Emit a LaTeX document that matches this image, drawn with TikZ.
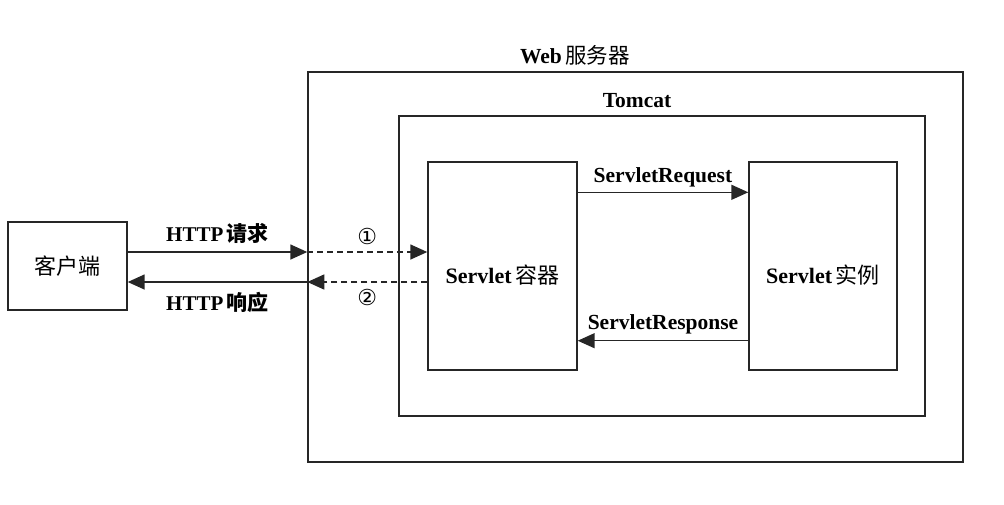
\documentclass[tikz,border=0pt]{standalone}
\usepackage{fontspec}
\setmainfont{Liberation Serif}
\newfontfamily\cjk{Noto Sans CJK SC}
\newfontfamily\sym{DejaVu Sans}
\usetikzlibrary{arrows.meta}
\begin{document}
\begin{tikzpicture}[x=1pt,y=-1pt,
  box/.style={draw=black!85,line width=1.4pt,inner sep=0pt},
  lbl/.style={font=\fontsize{21.5}{24}\selectfont\bfseries},
  cjklbl/.style={font=\fontsize{22}{24}\selectfont\cjk},
  conn/.style={draw=black!85,line width=1.5pt,-{Triangle[length=17pt,width=15pt]}},
  dconn/.style={conn,dash pattern=on 6pt off 4pt}]
\useasboundingbox (0,0) rectangle (1004,504);
% boxes
\node[box,minimum width=119pt,minimum height=88pt] (client) at (67.5,266) {};
\node[cjklbl] at (client.center) {客户端};
\node[box,minimum width=655pt,minimum height=390pt] (web) at (635.5,267) {};
\node[box,minimum width=526pt,minimum height=300pt] (tomcat) at (662,266) {};
\node[box,minimum width=149pt,minimum height=208pt] (container) at (502.5,266) {};
\node[box,minimum width=148pt,minimum height=208pt] (instance) at (823,266) {};
% labels of boxes
\node[anchor=base] (weblbl) at (575,63) {\fontsize{21.5}{24}\selectfont\bfseries Web\,{\cjk\mdseries 服务器}};
\node[anchor=base,lbl] (tomcatlbl) at (637,107) {Tomcat};
\node[anchor=base] (contlbl) at (502.5,283) {\fontsize{22}{24}\selectfont\bfseries Servlet\,{\cjk\mdseries 容器}};
\node[anchor=base] (instlbl) at (823,283) {\fontsize{22}{24}\selectfont\bfseries Servlet\,{\cjk\mdseries 实例}};
% connectors
\draw[conn] ([yshift=14pt]client.east) -- ([yshift=14pt]client.east -| web.west)
  node[midway,above=4pt,font=\fontsize{21}{24}\selectfont\bfseries] (req) {HTTP\,{\cjk 请求}};
\draw[dconn] ([yshift=14pt]client.east -| web.west) -- ([yshift=14pt]client.east -| container.west)
  node[midway,above=3pt,font=\fontsize{22}{24}\selectfont\sym] (c1) {①};
\draw[dconn] ([yshift=-16pt]client.east -| container.west) -- ([yshift=-16pt]client.east -| web.west)
  node[midway,below=3pt,font=\fontsize{22}{24}\selectfont\sym] (c2) {②};
\draw[conn] ([yshift=-16pt]client.east -| web.west) -- ([yshift=-16pt]client.east)
  node[midway,below=6pt,font=\fontsize{21}{24}\selectfont\bfseries] (resp) {HTTP\,{\cjk 响应}};
\draw[conn] ([yshift=-31pt]container.north east) -- ([yshift=-31pt]container.north east -| instance.west)
  node[midway,above=1pt,lbl] (sreq) {ServletRequest};
\draw[conn] ([yshift=30pt]instance.south west) -- ([yshift=30pt]instance.south west -| container.east)
  node[midway,above=3pt,lbl] (sresp) {ServletResponse};
\end{tikzpicture}
\end{document}
